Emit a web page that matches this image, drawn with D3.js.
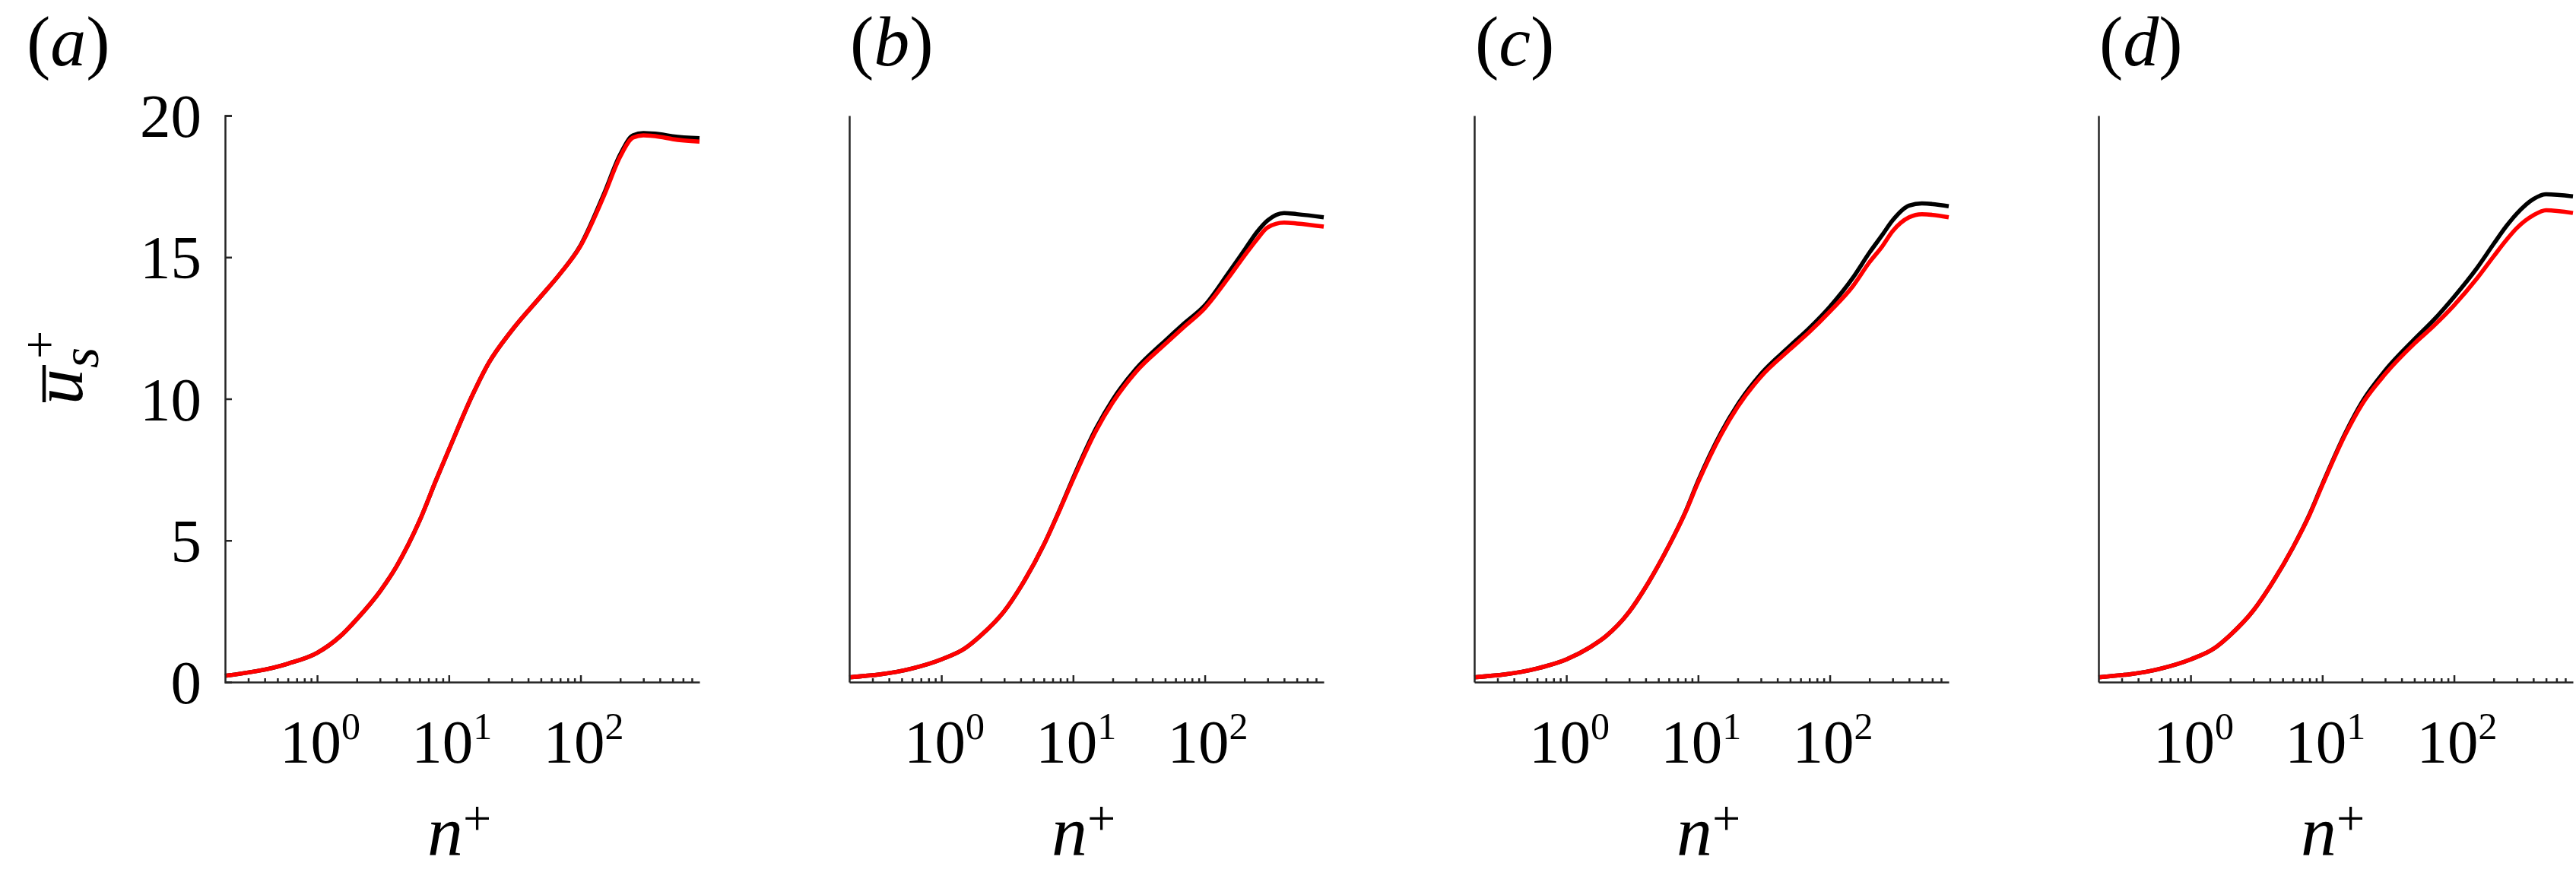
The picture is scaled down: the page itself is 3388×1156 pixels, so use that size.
<!DOCTYPE html>
<html>
<head>
<meta charset="utf-8">
<script src="https://cdn.jsdelivr.net/npm/d3@7"></script>
<style>
  html, body { margin: 0; padding: 0; background: #fff; }
  svg { display: block; }
</style>
</head>
<body>
<svg id="chart" width="3388" height="1156" font-family="Liberation Serif"></svg>
<script>
// ---------------- DATA ----------------
const panelLabels = ["a", "b", "c", "d"];
const nPlus = [0.2, 0.6, 1, 1.5, 2, 3, 4, 6, 8, 10, 15, 20, 30, 50, 70, 100, 150, 200, 250, 300, 400, 500, 800];

const redA   = [0.22, 0.65, 1.03, 1.62, 2.22, 3.20, 4.08, 5.70, 7.13, 8.20, 10.10, 11.25, 12.41, 13.62, 14.42, 15.40, 17.15, 18.55, 19.22, 19.30, 19.25, 19.17, 19.08];
const blackA = [0.22, 0.65, 1.03, 1.62, 2.22, 3.20, 4.08, 5.70, 7.13, 8.20, 10.10, 11.25, 12.41, 13.62, 14.42, 15.42, 17.22, 18.63, 19.30, 19.38, 19.34, 19.27, 19.20];

const redB   = [0.17, 0.48, 0.80, 1.18, 1.65, 2.50, 3.36, 4.85, 6.12, 7.15, 8.89, 9.87, 10.95, 11.93, 12.55, 13.20, 14.25, 15.05, 15.64, 16.05, 16.22, 16.19, 16.08];
const blackB = [0.17, 0.48, 0.80, 1.18, 1.65, 2.50, 3.36, 4.85, 6.14, 7.20, 8.97, 9.97, 11.05, 12.05, 12.67, 13.30, 14.42, 15.25, 15.90, 16.30, 16.56, 16.52, 16.41];

const redC   = [0.17, 0.48, 0.80, 1.22, 1.62, 2.48, 3.35, 4.81, 5.98, 7.05, 8.75, 9.72, 10.78, 11.75, 12.36, 13.08, 13.98, 14.82, 15.38, 15.92, 16.41, 16.52, 16.41];
const blackC = [0.17, 0.48, 0.80, 1.22, 1.62, 2.48, 3.35, 4.81, 6.00, 7.10, 8.82, 9.80, 10.88, 11.87, 12.50, 13.25, 14.28, 15.16, 15.78, 16.30, 16.82, 16.90, 16.80];

const redD   = [0.17, 0.48, 0.80, 1.18, 1.66, 2.53, 3.37, 4.76, 5.90, 6.95, 8.75, 9.80, 10.87, 11.95, 12.57, 13.30, 14.26, 15.03, 15.61, 16.03, 16.48, 16.66, 16.56];
const blackD = [0.17, 0.48, 0.80, 1.18, 1.66, 2.53, 3.37, 4.76, 5.92, 6.98, 8.80, 9.88, 11.00, 12.10, 12.78, 13.60, 14.63, 15.47, 16.10, 16.54, 17.05, 17.22, 17.15];

const redSeries   = [redA, redB, redC, redD];
const blackSeries = [blackA, blackB, blackC, blackD];

const xDomain = [0.2, 800];
const yDomain = [0, 20];
const xMajorTicks = [1, 10, 100];
const xMajorExp = ["0", "1", "2"];
const xMinorTicks = [0.3, 0.4, 0.5, 0.6, 0.7, 0.8, 0.9,
                     2, 3, 4, 5, 6, 7, 8, 9,
                     20, 30, 40, 50, 60, 70, 80, 90,
                     200, 300, 400, 500, 600, 700];
const yTicks = [0, 5, 10, 15, 20];

// ---------------- LAYOUT ----------------
const FONT = "Liberation Serif";
const svg = d3.select("#chart");
svg.append("rect").attr("width", 3388).attr("height", 1156).attr("fill", "#fff");

const panelLeft = [296, 1117, 1939, 2760];
const plotW = 624;
const yTop = 152, yBottom = 897;
const axisColor = "#262626";

panelLabels.forEach((lab, i) => {
  const x0 = panelLeft[i];
  const x = d3.scaleLog().domain(xDomain).range([x0, x0 + plotW]);
  const y = d3.scaleLinear().domain(yDomain).range([yBottom, yTop]);
  const g = svg.append("g");

  const line = d3.line()
    .x((d, k) => x(nPlus[k]))
    .y(d => y(d))
    .curve(d3.curveMonotoneX);

  g.append("path")
    .attr("d", line(blackSeries[i]))
    .attr("fill", "none").attr("stroke", "#000")
    .attr("stroke-width", 5.5).attr("stroke-linejoin", "round");
  g.append("path")
    .attr("d", line(redSeries[i]))
    .attr("fill", "none").attr("stroke", "#ff0000")
    .attr("stroke-width", 5.5).attr("stroke-linejoin", "round");

  const gxMinor = g.append("g").attr("transform", `translate(0,${yBottom})`)
    .call(d3.axisBottom(x).tickValues(xMinorTicks).tickSize(-5).tickSizeOuter(0).tickFormat(""));
  gxMinor.select(".domain").remove();
  gxMinor.selectAll("text").remove();
  gxMinor.selectAll("line").attr("stroke", axisColor).attr("stroke-width", 2.5);

  const gx = g.append("g").attr("transform", `translate(0,${yBottom})`)
    .call(d3.axisBottom(x).tickValues(xMajorTicks).tickSize(-9).tickSizeOuter(0).tickFormat(""));
  gx.selectAll("text").remove();
  gx.select(".domain").attr("stroke", axisColor).attr("stroke-width", 2.5);
  gx.selectAll("line").attr("stroke", axisColor).attr("stroke-width", 2.5);

  const lbl = g.selectAll(".xlab").data(xMajorTicks).enter().append("text")
    .attr("class", "xlab")
    .attr("x", d => x(d) + 4)
    .attr("y", 1003)
    .attr("text-anchor", "middle")
    .attr("font-family", FONT)
    .attr("font-size", 81)
    .attr("fill", "#000");
  lbl.append("tspan").text("10");
  lbl.append("tspan").attr("font-size", 50).attr("dy", -31).text((d, k) => xMajorExp[k]);

  const yAxis = d3.axisLeft(y).tickSizeOuter(0);
  if (i === 0) {
    yAxis.tickValues(yTicks).tickSize(-9).tickPadding(31).tickFormat(d3.format("d"));
  } else {
    yAxis.tickValues([]);
  }
  const gy = g.append("g").attr("transform", `translate(${x0},0)`).call(yAxis);
  gy.attr("font-family", FONT).attr("font-size", 81);
  gy.select(".domain").attr("stroke", axisColor).attr("stroke-width", 2.5);
  gy.selectAll("line").attr("stroke", axisColor).attr("stroke-width", 2.5);
  gy.selectAll("text")
    .attr("font-family", FONT)
    .attr("font-size", 81).attr("fill", "#000").attr("dy", "0.34em");

  const xt = g.append("text")
    .attr("x", x0 + plotW / 2 - 4)
    .attr("y", 1125)
    .attr("text-anchor", "middle")
    .attr("font-family", FONT)
    .attr("font-size", 94)
    .attr("fill", "#000");
  xt.append("tspan").attr("font-style", "italic").text("n");
  xt.append("tspan").attr("font-size", 66).attr("dy", -27).text("+");

  const pl = g.append("text")
    .attr("x", i === 0 ? 35 : x0 + 1)
    .attr("y", 86)
    .attr("font-family", FONT)
    .attr("font-size", 94)
    .attr("fill", "#000");
  pl.append("tspan").text("(");
  pl.append("tspan").attr("font-style", "italic").text(lab);
  pl.append("tspan").text(")");
});

const yl = svg.append("g").attr("transform", "translate(108,532) rotate(-90)");
yl.append("line")
  .attr("x1", 3).attr("x2", 52).attr("y1", -50).attr("y2", -50)
  .attr("stroke", "#000").attr("stroke-width", 4.5);
const ylt = yl.append("text").attr("x", 0).attr("y", 0).attr("font-family", FONT).attr("fill", "#000");
ylt.append("tspan").attr("x", 0).attr("y", 0).attr("font-size", 94).attr("font-style", "italic").text("u");
ylt.append("tspan").attr("x", 48).attr("y", 21).attr("font-size", 70).attr("font-style", "italic").text("s");
ylt.append("tspan").attr("x", 60).attr("y", -34).attr("font-size", 66).text("+");
</script>
</body>
</html>
